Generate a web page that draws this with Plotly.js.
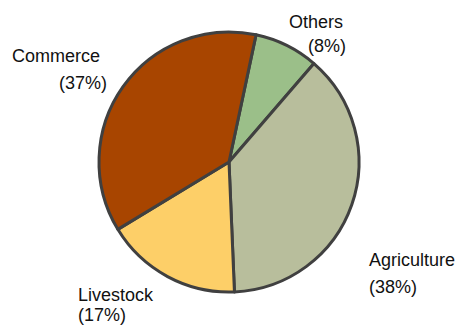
<!DOCTYPE html>
<html>
<head>
<meta charset="utf-8">
<script src="https://cdn.plot.ly/plotly-3.0.1.min.js"></script>
<style>html,body{margin:0;padding:0;background:#fff;}#chart{width:460px;height:326px;}</style>
</head>
<body>
<div id="chart"></div>
<script>
var labels = ["Others", "Agriculture", "Livestock", "Commerce"];
var values = [8, 38, 17, 37];
var colors = ["#9bbf89", "#b8be9c", "#fdcf68", "#a84500"];

// label placement in pixels: [name left x, name center y, percent left x, percent center y]
var labelPos = [
  [289, 22, 308, 46],
  [369, 260, 369, 287],
  [78, 295, 78, 315],
  [12, 56, 59, 83]
];

var W = 460, H = 326;
var annotations = [];
labels.forEach(function(l, i){
  var p = labelPos[i];
  var font = {family: "Liberation Sans, Arial, sans-serif", size: 18, color: "#111"};
  annotations.push({xref: "paper", yref: "paper", x: (p[0] - 2) / W, y: 1 - p[1] / H,
    xanchor: "left", yanchor: "middle", text: l, showarrow: false, font: font});
  annotations.push({xref: "paper", yref: "paper", x: (p[2] - 2) / W, y: 1 - p[3] / H,
    xanchor: "left", yanchor: "middle", text: "(" + values[i] + "%)", showarrow: false, font: font});
});

var cx = 229, cy = 162, r = 130;
var trace = {
  type: "pie",
  labels: labels,
  values: values,
  sort: false,
  direction: "clockwise",
  rotation: 12,
  marker: {colors: colors, line: {color: "#404040", width: 3}},
  textinfo: "none",
  hoverinfo: "none",
  domain: {x: [(cx - r) / W, (cx + r) / W], y: [(H - cy - r) / H, (H - cy + r) / H]}
};

Plotly.newPlot("chart", [trace], {
  width: W, height: H,
  margin: {l: 0, r: 0, t: 0, b: 0},
  showlegend: false,
  paper_bgcolor: "#fff",
  annotations: annotations
}, {staticPlot: true});
</script>
</body>
</html>
